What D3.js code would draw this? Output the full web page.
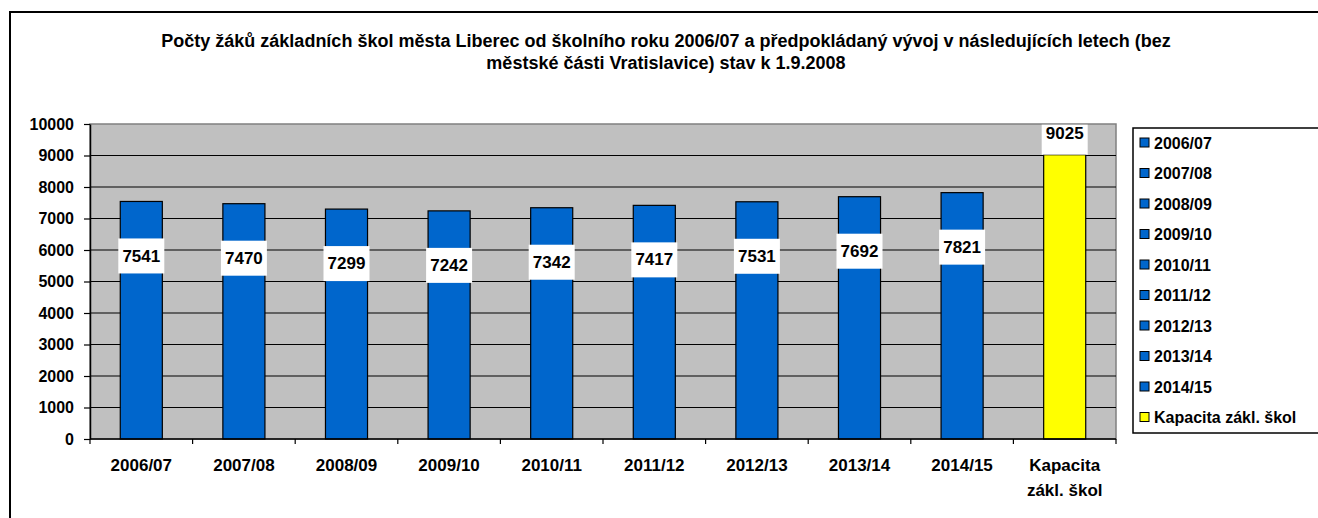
<!DOCTYPE html>
<html>
<head>
<meta charset="utf-8">
<style>
body { margin: 0; background: #fff; }
svg text { font-family: Arial, "Liberation Sans", sans-serif; font-weight: bold; fill: #000; }
</style>
</head>
<body>
<svg width="1318" height="518"></svg>
<script src="https://d3js.org/d3.v7.min.js"></script>
<script>

var categories = ["2006/07", "2007/08", "2008/09", "2009/10", "2010/11", "2011/12", "2012/13", "2013/14", "2014/15", "Kapacita zákl. škol"];
var values = [7541, 7470, 7299, 7242, 7342, 7417, 7531, 7692, 7821, 9025];
var colors = ["#0066cc", "#0066cc", "#0066cc", "#0066cc", "#0066cc", "#0066cc", "#0066cc", "#0066cc", "#0066cc", "#ffff00"];
var yTicks = [0, 1000, 2000, 3000, 4000, 5000, 6000, 7000, 8000, 9000, 10000];
var titleLines = [
  "Počty žáků základních škol města Liberec od školního roku 2006/07 a předpokládaný vývoj v následujících letech (bez",
  "městské části Vratislavice) stav k 1.9.2008"
];

var data = categories.map((c, i) => ({cat: c, value: values[i], color: colors[i]}));

var svg = d3.select("svg"),
    margin = {top: 124, right: 202, bottom: 79, left: 90},
    width = +svg.attr("width") - margin.left - margin.right,
    height = +svg.attr("height") - margin.top - margin.bottom;

// outer frame
svg.append("rect")
    .attr("x", 10).attr("y", 12)
    .attr("width", 1320).attr("height", 520)
    .attr("fill", "none").attr("stroke", "#000").attr("stroke-width", 2);

svg.selectAll(".title")
  .data(titleLines)
  .enter().append("text")
    .attr("x", 666)
    .attr("y", (d, i) => 47 + i * 22)
    .attr("text-anchor", "middle")
    .style("font-size", "18px")
    .text(d => d);

var g = svg.append("g")
    .attr("transform", "translate(" + margin.left + "," + margin.top + ")");

var x = d3.scaleBand()
    .domain(categories)
    .range([0, width])
    .paddingInner(0.59)
    .paddingOuter(0.295);

var y = d3.scaleLinear()
    .domain([0, 10000])
    .range([height, 0]);

// plot area
g.append("rect")
    .attr("width", width).attr("height", height)
    .attr("fill", "#c0c0c0")
    .attr("stroke", "#808080").attr("stroke-width", 1.5);

// grid lines
g.selectAll(".grid")
  .data(yTicks.slice(1, -1))
  .enter().append("line")
    .attr("x1", 0).attr("x2", width)
    .attr("y1", d => y(d)).attr("y2", d => y(d))
    .attr("stroke", "#000").attr("stroke-width", 1.2);

// y axis
var yAxis = g.append("g")
    .call(d3.axisLeft(y).tickValues(yTicks).tickFormat(d3.format("d"))
      .tickSize(6).tickSizeOuter(0).tickPadding(10));
yAxis.select(".domain").attr("stroke", "#000").attr("stroke-width", 1.5);
yAxis.selectAll("line").attr("stroke", "#000").attr("stroke-width", 1.2);
yAxis.selectAll("text")
    .style("font-size", "16px")
    .style("font-family", "Arial, 'Liberation Sans', sans-serif")
    .style("font-weight", "bold");

// bars
g.selectAll(".bar")
  .data(data)
  .enter().append("rect")
    .attr("x", d => x(d.cat))
    .attr("y", d => y(d.value))
    .attr("width", x.bandwidth())
    .attr("height", d => height - y(d.value))
    .attr("fill", d => d.color)
    .attr("stroke", "#000").attr("stroke-width", 1.2);

// x axis
var step = x.step();
var xAxis = g.append("g").attr("transform", "translate(0," + height + ")");
xAxis.append("line")
    .attr("x1", 0).attr("x2", width)
    .attr("stroke", "#000").attr("stroke-width", 1.5);
xAxis.selectAll(".tk")
  .data(d3.range(categories.length + 1))
  .enter().append("line")
    .attr("x1", i => i * step).attr("x2", i => i * step)
    .attr("y1", 0).attr("y2", 5)
    .attr("stroke", "#000").attr("stroke-width", 1.2);

var xl = xAxis.selectAll(".xl")
  .data(data)
  .enter().append("text")
    .attr("x", d => x(d.cat) + x.bandwidth() / 2)
    .attr("y", 32)
    .attr("text-anchor", "middle")
    .style("font-size", "17px");
xl.each(function(d) {
  var t = d3.select(this);
  var parts = d.cat === "Kapacita zákl. škol" ? ["Kapacita", "zákl. škol"] : [d.cat];
  parts.forEach((p, i) => {
    t.append("tspan")
      .attr("x", x(d.cat) + x.bandwidth() / 2)
      .attr("dy", i === 0 ? 0 : 25)
      .text(p);
  });
});

// data labels with white boxes
var labels = g.selectAll(".lbl")
  .data(data)
  .enter().append("g")
    .attr("transform", d => {
      var cy = d.cat === "Kapacita zákl. škol" ? y(d.value) - 15 : y(d.value) + 54;
      return "translate(" + (x(d.cat) + x.bandwidth() / 2) + "," + cy + ")";
    });
labels.append("rect")
    .attr("x", -23).attr("y", d => d.cat === "Kapacita zákl. škol" ? -15 : -17)
    .attr("width", 46).attr("height", d => d.cat === "Kapacita zákl. škol" ? 30 : 35)
    .attr("fill", "#fff");
labels.append("text")
    .attr("text-anchor", "middle")
    .attr("dy", d => d.cat === "Kapacita zákl. škol" ? "-0.05em" : "0.36em")
    .style("font-size", "17px")
    .text(d => d.value);

// legend
var legend = svg.append("g").attr("transform", "translate(1133,128)");
legend.append("rect")
    .attr("width", 200).attr("height", 305)
    .attr("fill", "#fff").attr("stroke", "#000").attr("stroke-width", 1.5);
var li = legend.selectAll(".li")
  .data(data)
  .enter().append("g")
    .attr("transform", (d, i) => "translate(7," + (15 + i * 30.5) + ")");
li.append("rect")
    .attr("x", 0).attr("y", -5)
    .attr("width", 9).attr("height", 9)
    .attr("fill", d => d.color)
    .attr("stroke", "#000").attr("stroke-width", 1);
li.append("text")
    .attr("x", 14).attr("dy", "0.36em")
    .style("font-size", "16px")
    .text(d => d.cat);

</script>
</body>
</html>
